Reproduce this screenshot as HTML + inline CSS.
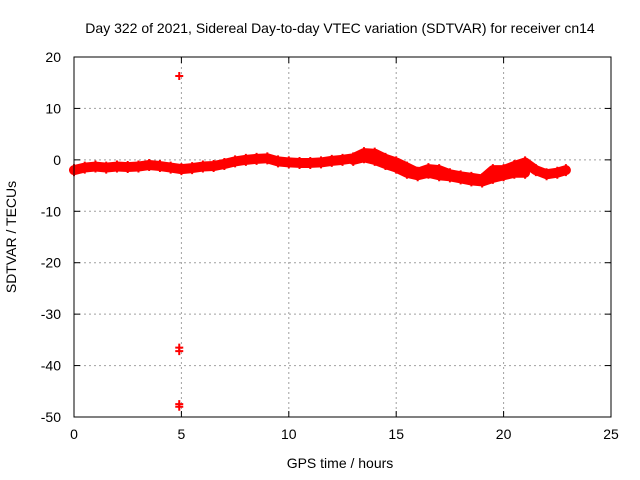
<!DOCTYPE html>
<html><head><meta charset="utf-8"><style>
body{margin:0;background:#fff;}
svg{display:block;font-family:"Liberation Sans",sans-serif;}
</style></head><body>
<svg id="chart" width="640" height="480" viewBox="0 0 640 480">
<rect width="640" height="480" fill="#fff"/>
<text x="340" y="33" font-size="14" text-anchor="middle">Day 322 of 2021, Sidereal Day-to-day VTEC variation (SDTVAR) for receiver cn14</text>
<text x="340" y="468" font-size="14" text-anchor="middle">GPS time / hours</text>
<text x="16" y="237" font-size="14" text-anchor="middle" transform="rotate(-90 16 237)">SDTVAR / TECUs</text>
<g id="grid"></g><g id="data"></g><g id="axes"></g>
</svg>
<script>
const xTicks=[0,5,10,15,20,25];
const yTicks=[20,10,0,-10,-20,-30,-40,-50];
const timesA=[0,0.5,1,1.5,2,2.5,3,3.5,4,4.5,5,5.5,6,6.5,7,7.5,8,8.5,9,9.5,10,10.5,11,11.5,12,12.5,13,13.5,14,14.5,15,15.5,16,16.5,17,17.5,18,18.5,19,19.5,20,20.5,21,21.5,22,22.5,22.9];
const valuesA=[-2,-1.5,-1.3,-1.5,-1.3,-1.4,-1.3,-1,-1.2,-1.5,-1.8,-1.6,-1.3,-1.2,-0.8,-0.3,0,0.2,0.3,-0.3,-0.5,-0.6,-0.6,-0.5,-0.2,0,0.3,1.3,1.2,0.2,-0.5,-1.5,-2.5,-1.8,-2,-2.8,-3.2,-3.5,-3.8,-2,-2,-1.2,-0.5,-2,-2.8,-2.5,-2];
const timesB=[13,13.5,14,14.5,15,15.5,16,16.5,17,17.5,18,18.5,19,19.5,20,20.5,21];
const valuesB=[0,0.5,0,-0.8,-1.5,-2.5,-3,-2.5,-3,-3.2,-3.6,-4,-4.2,-3.5,-3,-2.5,-2.5];
const outlierTimes=[4.9,4.9,4.9,4.9,4.9];
const outlierValues=[16.3,-36.5,-37.2,-47.5,-48];
const X0=74,X1=611,Y0=57,Y1=417;
const xs=v=>X0+(v-0)/(25-0)*(X1-X0);
const ys=v=>Y1-(v-(-50))/(20-(-50))*(Y1-Y0);
const NS='http://www.w3.org/2000/svg';
function mk(t,a,p){const e=document.createElementNS(NS,t);for(const k in a)e.setAttribute(k,a[k]);p.appendChild(e);return e;}
const grid=document.getElementById('grid'),data=document.getElementById('data'),axes=document.getElementById('axes');
xTicks.forEach(t=>{const x=xs(t);
 if(t>0&&t<25){const g=mk('line',{x1:x,x2:x,y1:Y0,y2:Y1,stroke:'#a0a0a0','stroke-dasharray':'2,3'},grid);
 }
 mk('line',{x1:x,x2:x,y1:Y1,y2:Y1-6,stroke:'#000'},axes);mk('line',{x1:x,x2:x,y1:Y0,y2:Y0+6,stroke:'#000'},axes);
 const l=mk('text',{x:x,y:Y1+22,'font-size':14,'text-anchor':'middle'},axes);l.textContent=t;
 });
yTicks.forEach(t=>{const y=ys(t);
 if(t<20&&t>-50){const g=mk('line',{x1:X0,x2:X1,y1:y,y2:y,stroke:'#a0a0a0','stroke-dasharray':'2,3'},grid);
 }
 mk('line',{x1:X0,x2:X0+6,y1:y,y2:y,stroke:'#000'},axes);mk('line',{x1:X1,x2:X1-6,y1:y,y2:y,stroke:'#000'},axes);
 const l=mk('text',{x:X0-13,y:y+5,'font-size':14,'text-anchor':'end'},axes);l.textContent=t;
 });
const fr=mk('rect',{x:X0,y:Y0,width:X1-X0,height:Y1-Y0,fill:'none',stroke:'#000'},axes);

function series(ts,vs,name){
 const pl=mk('polyline',{points:ts.map((t,i)=>xs(t)+','+ys(vs[i])).join(' '),fill:'none',stroke:'#ff0000','stroke-width':10,'stroke-linejoin':'round','stroke-linecap':'round'},data);
 
 ts.forEach((t,i)=>{const x=xs(t),y=ys(vs[i]);
  const p=mk('path',{d:`M${x-4},${y}H${x+4}M${x},${y-6}V${y+6}`,stroke:'#ff0000','stroke-width':2},data);
  });
}
series(timesA,valuesA,'sdtvar-series-a');
series(timesB,valuesB,'sdtvar-series-b');
outlierTimes.forEach((t,i)=>{const x=xs(t),y=ys(outlierValues[i]);
 const p=mk('path',{d:`M${x-4},${y}H${x+4}M${x},${y-4}V${y+4}`,stroke:'#ff0000','stroke-width':2},data);
 });
</script>
</body></html>
